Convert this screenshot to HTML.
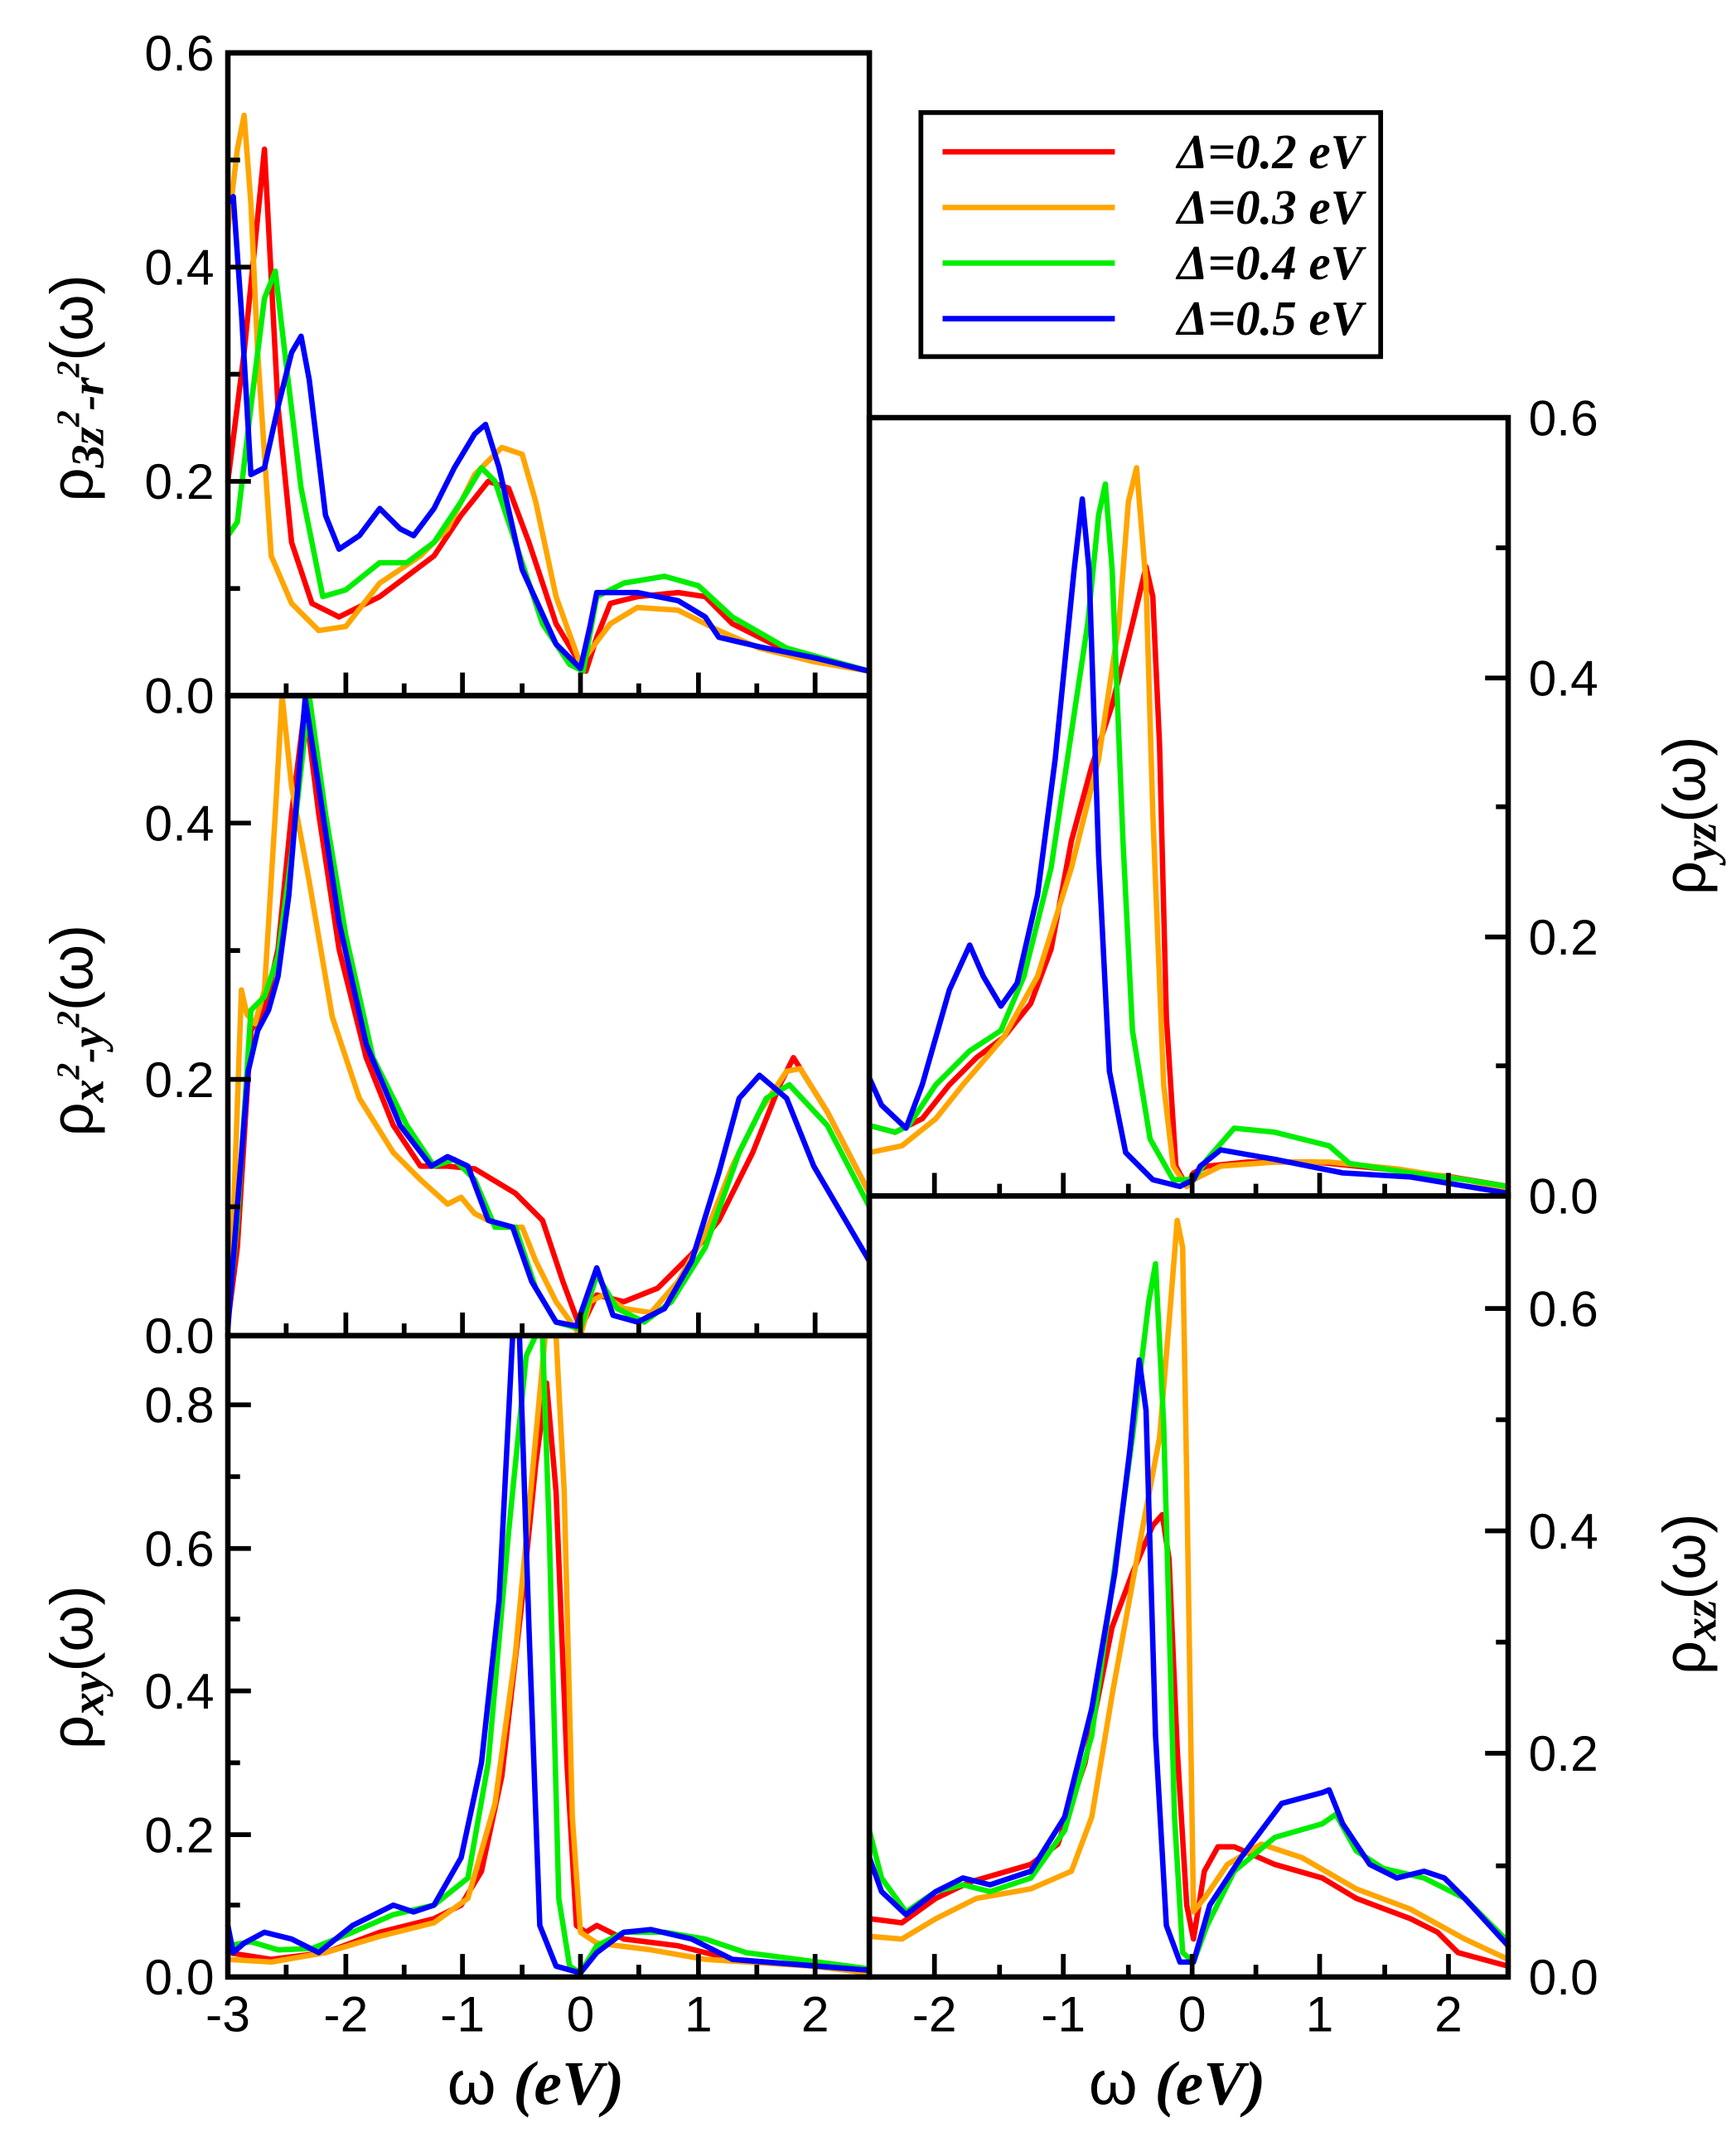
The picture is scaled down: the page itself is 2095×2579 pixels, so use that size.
<!DOCTYPE html>
<html><head><meta charset="utf-8"><style>
html,body{margin:0;padding:0;background:#fff;}
svg{display:block;}
text{font-family:"Liberation Sans",sans-serif;}
.t text{font-size:37px;}
text.s,tspan.s,.s text{font-family:"Liberation Serif",serif;font-style:italic;font-weight:bold;}
</style></head><body>
<svg width="2095" height="2579" viewBox="0 0 1280 1576" preserveAspectRatio="none" xmlns="http://www.w3.org/2000/svg">
<rect width="1280" height="1576" fill="#fff"/>
<g fill="none" stroke-width="4" stroke-linejoin="round" stroke-linecap="round">
<polyline stroke="#ff0000" points="168,355 180,260 195,110 205,300 215,400 230,445 250,455 280,440 320,410 340,380 360,355 375,360 390,400 410,460 428,490 432,495 440,470 450,445 470,440 500,437 520,440 540,460 570,475 600,485 641,495"/>
<polyline stroke="#ffa500" points="168,170 175,110 180,85 185,150 190,260 200,410 215,445 235,465 255,462 280,430 310,410 330,390 350,350 370,330 385,335 395,370 410,440 428,490 435,480 450,460 470,448 500,450 530,465 560,478 600,488 641,495"/>
<polyline stroke="#00ee00" points="168,395 175,385 185,300 195,220 203,200 210,260 222,360 238,440 255,435 280,415 300,415 320,400 340,370 355,345 365,355 380,400 400,460 420,490 430,495 440,440 460,430 490,425 515,432 540,455 580,478 641,495"/>
<polyline stroke="#0000ff" points="168,150 172,145 178,230 185,350 195,345 205,300 215,260 222,248 228,280 240,380 250,405 265,395 280,375 295,390 305,395 320,375 335,345 350,320 358,313 368,345 385,420 410,475 428,493 435,462 440,437 470,437 500,443 520,455 530,470 560,477 600,485 641,495"/>
<polyline stroke="#ff0000" points="168,975 175,920 185,760 195,745 205,700 215,600 225,520 235,600 250,700 270,780 290,830 310,860 330,860 350,862 380,880 400,900 415,945 428,980 440,955 460,960 485,950 510,925 530,900 555,850 575,800 585,780 610,820 641,880"/>
<polyline stroke="#ffa500" points="168,965 172,900 178,730 182,748 188,755 195,730 203,600 208,513 215,580 228,650 245,750 265,810 290,850 310,870 330,888 340,883 350,895 370,905 385,905 395,930 410,960 428,985 435,960 445,955 460,965 480,968 500,945 520,910 540,860 560,820 580,790 590,788 610,820 641,880"/>
<polyline stroke="#00ee00" points="168,975 175,900 185,745 195,735 205,705 215,630 228,513 240,600 255,690 275,780 300,830 320,860 335,855 350,870 365,905 380,905 395,950 410,975 428,980 440,940 455,965 475,975 495,960 520,920 545,850 565,810 582,800 610,830 641,890"/>
<polyline stroke="#0000ff" points="168,980 175,890 183,790 190,760 198,745 205,720 213,660 225,515 235,580 250,680 270,770 295,830 318,860 330,853 345,860 360,900 378,905 392,945 410,975 425,978 440,935 452,970 470,975 490,965 510,930 530,865 545,810 560,793 580,810 600,860 641,930"/>
<polyline stroke="#ff0000" points="168,1440 200,1445 240,1440 280,1425 320,1415 340,1405 355,1380 370,1310 385,1180 395,1080 403,1020 410,1100 418,1300 425,1420 432,1425 440,1420 460,1430 500,1435 540,1445 600,1450 641,1455"/>
<polyline stroke="#ffa500" points="168,1445 200,1447 240,1440 280,1428 320,1418 345,1400 365,1330 380,1220 395,1060 402,985 410,985 416,1100 422,1340 428,1425 440,1433 480,1438 520,1445 600,1450 641,1455"/>
<polyline stroke="#00ee00" points="168,1435 185,1432 205,1438 230,1437 260,1425 290,1412 320,1405 345,1385 360,1300 375,1130 388,1000 395,985 400,985 405,1130 412,1400 420,1450 428,1455 440,1435 460,1425 490,1425 520,1430 550,1440 641,1452"/>
<polyline stroke="#0000ff" points="168,1420 172,1440 180,1433 195,1425 215,1430 235,1440 260,1420 290,1405 305,1410 320,1405 340,1370 355,1300 368,1180 378,985 383,985 390,1200 398,1420 410,1450 428,1455 440,1440 460,1425 480,1423 510,1430 540,1445 641,1453"/>
<polyline stroke="#ff0000" points="641,830 660,835 680,825 700,800 720,780 740,765 760,740 775,700 790,620 805,565 820,520 835,460 845,418 850,440 855,550 860,750 867,860 875,875 880,865 890,860 920,857 970,857 1020,862 1070,868 1112,875"/>
<polyline stroke="#ffa500" points="641,850 665,845 690,825 710,800 740,765 765,720 790,640 810,560 825,460 832,370 838,345 845,430 850,600 858,800 865,860 875,875 880,870 900,860 940,857 980,857 1030,862 1080,870 1112,877"/>
<polyline stroke="#00ee00" points="641,830 660,835 670,830 690,800 715,775 738,760 755,720 775,640 790,540 802,460 810,380 815,357 820,420 828,620 835,760 848,840 865,870 880,870 890,855 910,832 940,835 980,845 995,858 1040,865 1080,870 1112,875"/>
<polyline stroke="#0000ff" points="641,795 650,815 668,832 680,800 700,730 715,697 725,720 738,742 750,725 765,660 778,560 792,420 798,368 803,420 810,630 818,790 830,850 850,870 870,875 880,870 885,860 900,848 940,855 990,865 1040,868 1112,880"/>
<polyline stroke="#ff0000" points="641,1415 665,1418 690,1400 715,1388 760,1375 780,1360 800,1300 820,1200 835,1160 850,1125 857,1117 862,1150 868,1290 875,1405 880,1430 888,1380 898,1362 910,1362 940,1375 975,1385 1000,1400 1040,1415 1060,1425 1075,1440 1112,1450"/>
<polyline stroke="#ffa500" points="641,1428 665,1430 690,1415 720,1400 760,1393 790,1380 805,1340 820,1250 840,1140 855,1060 862,975 868,900 872,920 875,1090 880,1410 888,1400 905,1375 930,1360 960,1370 1000,1393 1040,1408 1080,1430 1112,1445"/>
<polyline stroke="#00ee00" points="641,1350 650,1385 668,1410 690,1395 710,1390 730,1395 760,1385 785,1350 805,1280 820,1170 835,1060 847,960 852,932 858,1050 866,1340 872,1440 880,1447 890,1420 910,1380 940,1355 975,1345 985,1338 1000,1365 1020,1378 1050,1385 1080,1400 1112,1432"/>
<polyline stroke="#0000ff" points="641,1370 650,1395 668,1412 690,1395 710,1385 730,1390 760,1380 785,1340 805,1260 822,1160 833,1070 840,1003 845,1040 852,1280 860,1420 870,1447 880,1447 892,1405 915,1370 945,1330 975,1322 980,1320 990,1345 1010,1375 1030,1385 1050,1380 1065,1385 1080,1400 1112,1435"/>
</g>
<g fill="none" stroke="#000" stroke-width="4">
<rect x="168" y="39" width="473" height="474"/>
<rect x="168" y="513" width="473" height="472"/>
<rect x="168" y="985" width="473" height="473"/>
<rect x="641" y="308" width="471" height="574"/>
<rect x="641" y="882" width="471" height="576"/>
</g>
<g stroke="#000" stroke-width="3.5">
<path d="M168,513h17M168,434h9M168,355h17M168,276h9M168,197h17M168,118h9M168,39h17"/>
<path d="M168,985h17M168,890h9M168,796h17M168,701h9M168,607h17M168,513h9"/>
<path d="M168,1458h17M168,1405h9M168,1353h17M168,1300h9M168,1247h17M168,1194h9M168,1142h17M168,1089h9M168,1036h17"/>
<path d="M168,513v-17M211,513v-9M255,513v-17M298,513v-9M341,513v-17M385,513v-9M428,513v-17M471,513v-9M515,513v-17M558,513v-9M601,513v-17"/>
<path d="M168,985v-17M211,985v-9M255,985v-17M298,985v-9M341,985v-17M385,985v-9M428,985v-17M471,985v-9M515,985v-17M558,985v-9M601,985v-17"/>
<path d="M168,1458v-17M211,1458v-9M255,1458v-17M298,1458v-9M341,1458v-17M385,1458v-9M428,1458v-17M471,1458v-9M515,1458v-17M558,1458v-9M601,1458v-17"/>
<path d="M1112,882h-17M1112,786h-9M1112,691h-17M1112,595h-9M1112,500h-17M1112,404h-9M1112,308h-17"/>
<path d="M1112,1458h-17M1112,1376h-9M1112,1293h-17M1112,1211h-9M1112,1129h-17M1112,1047h-9M1112,965h-17"/>
<path d="M689,882v-17M737,882v-9M784,882v-17M832,882v-9M879,882v-17M926,882v-9M973,882v-17M1021,882v-9M1068,882v-17"/>
<path d="M689,1458v-17M737,1458v-9M784,1458v-17M832,1458v-9M879,1458v-17M926,1458v-9M973,1458v-17M1021,1458v-9M1068,1458v-17"/>
</g>
<g class="t" text-anchor="end">
<text x="158" y="52">0.6</text><text x="158" y="210">0.4</text><text x="158" y="368">0.2</text><text x="158" y="526">0.0</text>
<text x="158" y="620">0.4</text><text x="158" y="809">0.2</text><text x="158" y="998">0.0</text>
<text x="158" y="1049">0.8</text><text x="158" y="1155">0.6</text><text x="158" y="1260">0.4</text><text x="158" y="1366">0.2</text><text x="158" y="1471">0.0</text>
</g>
<g class="t" text-anchor="start">
<text x="1127" y="321">0.6</text><text x="1127" y="513">0.4</text><text x="1127" y="704">0.2</text><text x="1127" y="895">0.0</text>
<text x="1127" y="978">0.6</text><text x="1127" y="1142">0.4</text><text x="1127" y="1306">0.2</text><text x="1127" y="1471">0.0</text>
</g>
<g class="t" text-anchor="middle">
<text x="168" y="1498">-3</text><text x="255" y="1498">-2</text><text x="341" y="1498">-1</text><text x="428" y="1498">0</text><text x="515" y="1498">1</text><text x="601" y="1498">2</text>
<text x="689" y="1498">-2</text><text x="784" y="1498">-1</text><text x="879" y="1498">0</text><text x="973" y="1498">1</text><text x="1068" y="1498">2</text>
</g>
<g font-size="46" text-anchor="middle">
<text x="395" y="1552">ω <tspan class="s">(eV)</tspan></text>
<text x="868" y="1552">ω <tspan class="s">(eV)</tspan></text>
</g>
<g font-size="44">
<text transform="translate(68,370) rotate(-90)">ρ<tspan class="s" font-size="34" dy="8">3z</tspan><tspan class="s" font-size="24" dy="-18">2</tspan><tspan class="s" font-size="34" dy="18">-r</tspan><tspan class="s" font-size="24" dy="-18">2</tspan><tspan dy="10">(ω)</tspan></text>
<text transform="translate(68,838) rotate(-90)">ρ<tspan class="s" font-size="34" dy="8">x</tspan><tspan class="s" font-size="24" dy="-18">2</tspan><tspan class="s" font-size="34" dy="18">-y</tspan><tspan class="s" font-size="24" dy="-18">2</tspan><tspan dy="10">(ω)</tspan></text>
<text transform="translate(68,1290) rotate(-90)">ρ<tspan class="s" font-size="34" dy="8">xy</tspan><tspan dy="-8">(ω)</tspan></text>
<text transform="translate(1257,660) rotate(-90)">ρ<tspan class="s" font-size="34" dy="8">yz</tspan><tspan dy="-8">(ω)</tspan></text>
<text transform="translate(1257,1235) rotate(-90)">ρ<tspan class="s" font-size="34" dy="8">xz</tspan><tspan dy="-8">(ω)</tspan></text>
</g>
<rect x="679" y="83" width="339" height="180" fill="#fff" stroke="#000" stroke-width="3.5"/>
<g stroke-width="4">
<line x1="695" y1="112" x2="822" y2="112" stroke="#ff0000"/>
<line x1="695" y1="153" x2="822" y2="153" stroke="#ffa500"/>
<line x1="695" y1="194" x2="822" y2="194" stroke="#00ee00"/>
<line x1="695" y1="235" x2="822" y2="235" stroke="#0000ff"/>
</g>
<g class="s" font-size="36" text-anchor="end">
<text x="1005" y="124">Δ=0.2 eV</text>
<text x="1005" y="165">Δ=0.3 eV</text>
<text x="1005" y="206">Δ=0.4 eV</text>
<text x="1005" y="247">Δ=0.5 eV</text>
</g>
</svg>
</body></html>
